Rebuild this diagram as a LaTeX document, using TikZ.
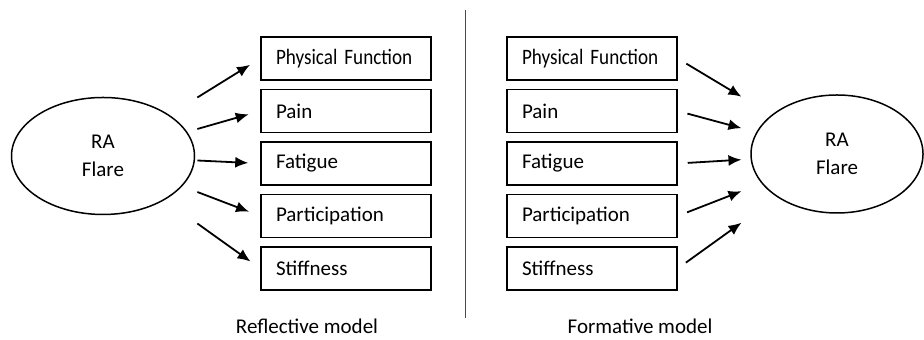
\documentclass[tikz,border=0pt]{standalone}
\usepackage{fontspec}
\setmainfont{Carlito}
\newfontfamily\narrowfont[FakeStretch=0.87]{Carlito}
\usetikzlibrary{positioning,calc,shapes.geometric,arrows.meta}
\tikzset{
  item/.style={draw,line width=0.75pt,rectangle,minimum height=21.5pt,
    text width=70pt,inner xsep=7.5pt,align=left},
  latent/.style={draw,line width=0.75pt,ellipse,inner sep=0pt,align=center,
    font=\fontsize{10.5}{13.7}\selectfont},
  flow/.style={-{Latex[length=6.5pt,width=5.5pt]},line width=0.9pt}
}

\begin{document}
\begin{tikzpicture}[x=1pt,y=1pt,font=\fontsize{10.5}{12.6}\selectfont]
    \useasboundingbox (0,0) rectangle (462,170);
    % reflective model
    \node (flare) [latent,minimum width=91.5pt,minimum height=58.5pt] at (51.5,92) {RA\\Flare};
    \node (phys) [item] at (173,140.75) {\narrowfont\fontsize{11}{13}\selectfont Physical Function};
    \node (pain) [item,below=4pt of phys] {Pain};
    \node (fat) [item,below=4pt of pain] {Fatigue};
    \node (part) [item,below=4pt of fat] {Participation};
    \node (stiff) [item,below=4pt of part] {Stiffness};
    \draw[flow] ($(phys.west)!0.4!(flare)$) -- ($(phys.west)!6pt!(flare)$);
    \draw[flow] ($(pain.west)!0.4!(flare)$) -- ($(pain.west)!6pt!(flare)$);
    \draw[flow] ($(fat.west)!0.4!(flare)$) -- ($(fat.west)!6pt!(flare)$);
    \draw[flow] ($(part.west)!0.4!(flare)$) -- ($(part.west)!6pt!(flare)$);
    \draw[flow] ($(stiff.west)!0.4!(flare)$) -- ($(stiff.west)!6pt!(flare)$);
    % formative model
    \node (flare2) [latent,minimum width=86pt,minimum height=59pt] at (418.5,93) {RA\\Flare};
    \node (phys2) [item] at (296,140.75) {\narrowfont\fontsize{11}{13}\selectfont Physical Function};
    \node (pain2) [item,below=4pt of phys2] {Pain};
    \node (fat2) [item,below=4pt of pain2] {Fatigue};
    \node (part2) [item,below=4pt of fat2] {Participation};
    \node (stiff2) [item,below=4pt of part2] {Stiffness};
    \draw[flow] ($(phys2.east)!5pt!(flare2)$) -- ($(phys2.east)!0.4!(flare2)$);
    \draw[flow] ($(pain2.east)!5pt!(flare2)$) -- ($(pain2.east)!0.4!(flare2)$);
    \draw[flow] ($(fat2.east)!5pt!(flare2)$) -- ($(fat2.east)!0.4!(flare2)$);
    \draw[flow] ($(part2.east)!5pt!(flare2)$) -- ($(part2.east)!0.4!(flare2)$);
    \draw[flow] ($(stiff2.east)!5pt!(flare2)$) -- ($(stiff2.east)!0.4!(flare2)$);
    % divider and captions
    \draw[gray!60!black,line width=0.5pt] (232.5,11) -- (232.5,165);
    \node (refl) [anchor=base,inner ysep=1pt] at (153.5,3) {Reflective model};
    \node (form) [anchor=base,inner ysep=1pt] at (320,3) {Formative model};
\end{tikzpicture}
\end{document}
